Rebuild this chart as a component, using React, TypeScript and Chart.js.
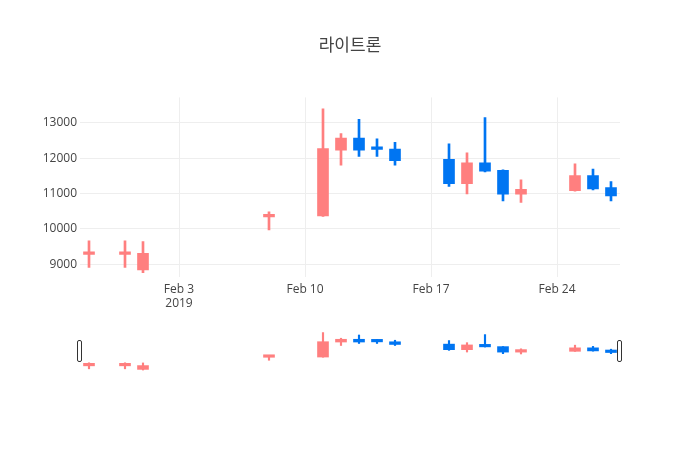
import React, { useEffect, useRef } from "react";
import { Chart, registerables } from "chart.js";

Chart.register(...registerables);

const title = "라이트론";
const dates = [
  "2019-01-29", "2019-01-31", "2019-02-01", "2019-02-08", "2019-02-11", "2019-02-12",
  "2019-02-13", "2019-02-14", "2019-02-15", "2019-02-18", "2019-02-19", "2019-02-20",
  "2019-02-21", "2019-02-22", "2019-02-25", "2019-02-26", "2019-02-27",
];
const openVals = [9280, 9280, 8840, 10340, 10370, 12230, 12570, 12280, 12260, 11970, 11280, 11870, 11660, 10980, 11080, 11510, 11170];
const closeVals = [9300, 9300, 9310, 10390, 12270, 12570, 12230, 12250, 11930, 11280, 11870, 11630, 10980, 11120, 11510, 11130, 10930];
const highVals = [9660, 9660, 9640, 10480, 13400, 12700, 13100, 12550, 12450, 12410, 12150, 13150, 11670, 11390, 11840, 11690, 11340];
const lowVals = [8910, 8910, 8760, 9970, 10350, 11800, 12050, 12050, 11800, 11200, 10990, 11610, 10790, 10750, 11070, 11100, 10790];
const xTickDates = ["2019-02-03", "2019-02-10", "2019-02-17", "2019-02-24"];
const yTickVals = [9000, 10000, 11000, 12000, 13000];
const xRange = ["2019-01-28", "2019-02-27"]; // +0.5 day each side
const yRange = [8640, 13720];

const UP = "#ff7f7f";
const DOWN = "#0075f2";
const MONTHS = ["Jan", "Feb", "Mar", "Apr", "May", "Jun", "Jul", "Aug", "Sep", "Oct", "Nov", "Dec"];

const dayNum = (s: string) => {
  const [y, m, d] = s.split("-").map(Number);
  return Math.round(Date.UTC(y, m - 1, d) / 86400000);
};
const fmtDay = (n: number) => {
  const dt = new Date(n * 86400000);
  return MONTHS[dt.getUTCMonth()] + " " + dt.getUTCDate();
};

const xs = dates.map(dayNum);
const colors = openVals.map((o, i) => (closeVals[i] >= o ? UP : DOWN));
const xMin = dayNum(xRange[0]) + 0.5;
const xMax = dayNum(xRange[1]) + 0.5;

function makeDatasets(wickW: number, bodyW: number) {
  return [
    {
      label: "body",
      data: xs.map((x, i) => ({ x, y: [openVals[i], closeVals[i]] })),
      backgroundColor: colors,
      barThickness: bodyW,
      grouped: false,
      minBarLength: 2.5,
      borderWidth: 0,
    },
    {
      label: "wick",
      data: xs.map((x, i) => ({ x, y: [lowVals[i], highVals[i]] })),
      backgroundColor: colors,
      barThickness: wickW,
      grouped: false,
      borderWidth: 0,
    },
  ];
}

const FONT = { family: '"Open Sans", sans-serif', size: 12 };

export default function App() {
  const mainRef = useRef<HTMLCanvasElement>(null);
  const sliderRef = useRef<HTMLCanvasElement>(null);

  useEffect(() => {
    const main = new Chart(mainRef.current!, {
      type: "bar",
      data: { datasets: makeDatasets(2, 11) as any },
      options: {
        animation: false,
        responsive: false,
        layout: { padding: 0 },
        plugins: {
          legend: { display: false },
          tooltip: { enabled: false },
          title: {
            display: true,
            text: title,
            color: "#444",
            font: { family: '"Noto Sans CJK KR", sans-serif', size: 17, weight: "normal" },
            padding: { top: 34, bottom: 43 },
          },
        },
        scales: {
          x: {
            type: "linear",
            min: xMin,
            max: xMax,
            offset: false,
            afterBuildTicks: (s: any) => {
              s.ticks = xTickDates.map((d) => ({ value: dayNum(d) }));
            },
            afterFit: (s: any) => {
              s.height = 43;
            },
            ticks: {
              autoSkip: false,
              maxRotation: 0,
              padding: 5,
              color: "#444",
              font: FONT,
              callback: (v: any, i: number) => (i === 0 ? [fmtDay(v), "2019"] : fmtDay(v)),
            },
            grid: { color: "#eee", drawTicks: false, offset: false },
            border: { display: false },
          },
          y: {
            type: "linear",
            min: yRange[0],
            max: yRange[1],
            afterBuildTicks: (s: any) => {
              s.ticks = yTickVals.map((v) => ({ value: v }));
            },
            afterFit: (s: any) => {
              s.width = 80;
            },
            ticks: { padding: 3, color: "#444", font: FONT, callback: (v: any) => String(v) },
            grid: { color: "#eee", drawTicks: false },
            border: { display: false },
          },
          yRightSpace: {
            type: "linear",
            position: "right",
            min: yRange[0],
            max: yRange[1],
            afterFit: (s: any) => {
              s.width = 80;
            },
            ticks: { display: false },
            grid: { display: false, drawTicks: false },
            border: { display: false },
          },
        },
      } as any,
    });

    const handles = {
      id: "handles",
      afterDraw(chart: any) {
        const { ctx, chartArea } = chart;
        const h = 21;
        const top = chartArea.top + (chartArea.bottom - chartArea.top - h) / 2;
        ctx.save();
        ctx.fillStyle = "#fff";
        ctx.strokeStyle = "#333";
        ctx.lineWidth = 1;
        [chartArea.left, chartArea.right].forEach((cx: number) => {
          ctx.beginPath();
          ctx.roundRect(Math.round(cx) - 2.5, Math.round(top) + 0.5, 4, h, 1.5);
          ctx.fill();
          ctx.stroke();
        });
        ctx.restore();
      },
    };

    const slider = new Chart(sliderRef.current!, {
      type: "bar",
      data: { datasets: makeDatasets(1.5, 11) as any },
      options: {
        animation: false,
        responsive: false,
        layout: { padding: { left: 80, right: 80, top: 0, bottom: 0 } },
        plugins: { legend: { display: false }, tooltip: { enabled: false } },
        scales: {
          x: { type: "linear", min: xMin, max: xMax, display: false, offset: false },
          y: { type: "linear", min: yRange[0], max: yRange[1], display: false },
        },
      } as any,
      plugins: [handles],
    });

    return () => {
      main.destroy();
      slider.destroy();
    };
  }, []);

  return (
    <div style={{ position: "absolute", left: 0, top: 0, width: 700, height: 450, background: "#fff" }}>
      <canvas
        ref={mainRef}
        width={700}
        height={320}
        style={{ position: "absolute", left: 0, top: 0, width: 700, height: 320 }}
      />
      <canvas
        ref={sliderRef}
        width={700}
        height={41}
        style={{ position: "absolute", left: 0, top: 330, width: 700, height: 41 }}
      />
    </div>
  );
}
